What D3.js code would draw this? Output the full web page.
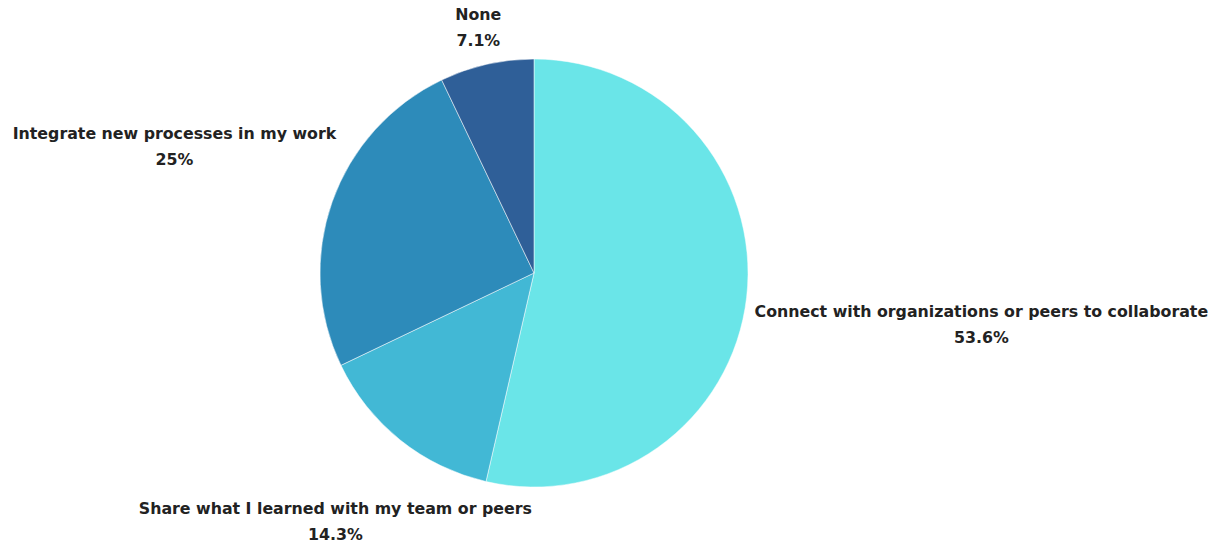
<!DOCTYPE html>
<meta charset="utf-8">
<script src="https://d3js.org/d3.v7.min.js"></script>
<style>
  body { margin: 0; background: #fff; }
  text { font-family: "DejaVu Sans", sans-serif; font-weight: bold; fill: #222; }
</style>
<div id="pie"></div>
<script>

// categories and values (percent), clockwise from 12 o'clock
var categories = ["Connect with organizations or peers to collaborate",
                  "Share what I learned with my team or peers",
                  "Integrate new processes in my work",
                  "None"];
var values = [53.6, 14.3, 25, 7.1];
var valueLabels = ["53.6%", "14.3%", "25%", "7.1%"];
var colors = ["#6ae5e8", "#42b8d5", "#2d8bba", "#2f5f98"];

var width = 1215, height = 542;
var cx = 534, cy = 273, radius = 214;

var svg = d3.select("#pie")
  .append("svg")
    .attr("width", width)
    .attr("height", height);

var g = svg.append("g")
  .attr("transform", "translate(" + cx + "," + cy + ")");

var data = categories.map(function(c, i) {
  return {name: c, value: values[i], label: valueLabels[i], color: colors[i]};
});

var pie = d3.pie()
  .sort(null)
  .value(function(d) { return d.value; });

var arc = d3.arc()
  .innerRadius(0)
  .outerRadius(radius);

var arcs = pie(data);

g.selectAll("path")
  .data(arcs)
  .enter()
  .append("path")
    .attr("d", arc)
    .attr("fill", function(d) { return d.data.color; })
    .attr("stroke", "#fff")
    .attr("stroke-width", 0.5);

// labels: two lines, pushed out along the mid angle until the box clears the pie
var fontSize = 15.8, lineH = 26, gap = 8;

var labels = g.selectAll("g.label")
  .data(arcs)
  .enter()
  .append("g")
    .attr("class", "label");

labels.append("text")
  .attr("text-anchor", "middle")
  .attr("font-size", fontSize)
  .attr("y", -lineH / 2 + 6)
  .text(function(d) { return d.data.name; });

labels.append("text")
  .attr("text-anchor", "middle")
  .attr("font-size", fontSize)
  .attr("y", lineH / 2 + 6)
  .text(function(d) { return d.data.label; });

labels.attr("transform", function(d) {
  var texts = d3.select(this).selectAll("text").nodes();
  var hw = d3.max(texts, function(t) { return t.getComputedTextLength(); }) / 2;
  var hh = lineH;
  var a = (d.startAngle + d.endAngle) / 2;
  var ux = Math.sin(a), uy = -Math.cos(a);
  var lo = 0, hi = 1000;
  for (var k = 0; k < 50; k++) {
    var m = (lo + hi) / 2;
    var bx = ux * m, by = uy * m;
    var nx = Math.max(bx - hw, Math.min(0, bx + hw));
    var ny = Math.max(by - hh, Math.min(0, by + hh));
    if (Math.sqrt(nx * nx + ny * ny) < radius + gap) lo = m; else hi = m;
  }
  return "translate(" + (ux * hi) + "," + (uy * hi) + ")";
});

</script>
